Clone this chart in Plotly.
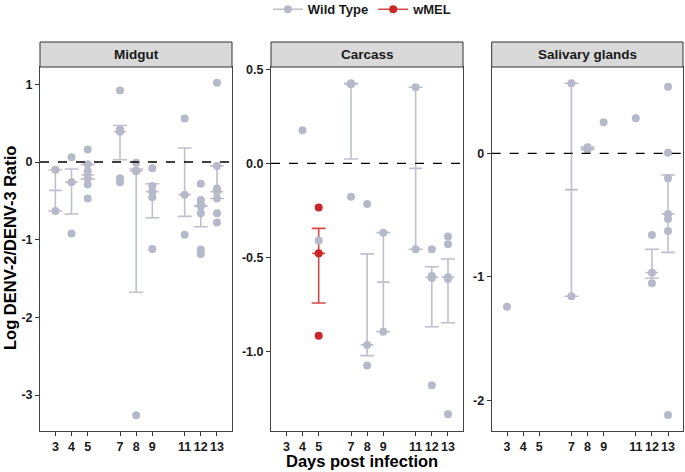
import numpy as np
import plotly.graph_objects as go

# ---------------- data ----------------
day_ticks = [3, 4, 5, 7, 8, 9, 11, 12, 13]
tissues = ["Midgut", "Carcass", "Salivary glands"]

# Midgut - Wild Type
mid_wt_days = [3, 3, 4, 4, 4, 5, 5, 5, 5, 5, 5, 7, 7, 7, 7, 7, 8, 8, 8, 8,
               9, 9, 9, 9, 9, 11, 11, 11, 12, 12, 12, 12, 12, 12, 12,
               13, 13, 13, 13, 13, 13, 13]
mid_wt_vals = [-0.10, -0.63, 0.06, -0.26, -0.92, 0.16, -0.03, -0.12, -0.21, -0.29, -0.47,
               0.92, 0.42, 0.39, -0.21, -0.26, -0.01, -0.11, -0.12, -3.26,
               -0.08, -0.31, -0.38, -0.455, -1.12, 0.56, -0.42, -0.935,
               -0.28, -0.49, -0.54, -0.57, -0.66, -1.125, -1.185,
               1.02, -0.05, -0.34, -0.38, -0.47, -0.66, -0.78]
mid_sum_days = [3, 4, 5, 7, 8, 9, 11, 12, 13]
mid_sum_lo = [-0.63, -0.67, -0.22, 0.03, -1.677, -0.717, -0.70, -0.833, -0.47]
mid_sum_hi = [-0.10, -0.09, -0.03, 0.47, -0.09, -0.28, 0.18, -0.56, -0.05]
mid_sum_med = [-0.365, -0.26, -0.165, 0.39, -0.115, -0.38, -0.42, -0.57, -0.38]

# Carcass - Wild Type
car_wt_days = [4, 5, 7, 7, 7, 8, 8, 8, 9, 9, 11, 11, 12, 12, 12, 12, 13, 13, 13, 13, 13]
car_wt_vals = [0.175, -0.41, 0.425, 0.42, -0.178, -0.216, -0.966, -1.076, -0.369, -0.896,
               0.404, -0.457, -0.457, -0.60, -0.61, -1.18, -0.39, -0.431, -0.606, -0.615, -1.335]
car_sum_days = [7, 8, 9, 11, 12, 13]
car_sum_lo = [0.023, -1.023, -0.896, -0.457, -0.869, -0.848]
car_sum_hi = [0.425, -0.482, -0.369, 0.404, -0.55, -0.509]
car_sum_med = [0.42, -0.966, -0.632, -0.027, -0.605, -0.606]

# Carcass - wMEL
car_wm_days = [5, 5, 5]
car_wm_vals = [-0.235, -0.479, -0.917]
car_wm_sum_days = [5]
car_wm_sum_lo = [-0.743]
car_wm_sum_hi = [-0.346]
car_wm_sum_med = [-0.479]

# Salivary glands - Wild Type
sal_wt_days = [3, 7, 7, 8, 8, 9, 11, 12, 12, 12, 13, 13, 13, 13, 13, 13, 13]
sal_wt_vals = [-1.242, 0.567, -1.158, 0.05, 0.03, 0.251, 0.283, -0.662, -0.967, -1.053,
               0.539, 0.005, -0.203, -0.491, -0.532, -0.629, -2.119]
sal_sum_days = [7, 8, 12, 13]
sal_sum_lo = [-1.158, 0.03, -1.012, -0.802]
sal_sum_hi = [0.567, 0.05, -0.777, -0.176]
sal_sum_med = [-0.295, 0.04, -0.967, -0.491]

# ---------------- styling ----------------
GREY = "#B6B9C9"
GREY_BAR = "#BDC0CE"
RED = "#C9262A"
RED_BAR = "#D24A48"
FONT = "Liberation Sans, Arial, sans-serif"
W, H = 685, 472

panel_px = [(40, 232), (271, 463), (491.7, 683)]
plot_top, plot_bot = 67, 430.5
strip_top = 42
yranges = [[-3.456, 1.223], [-1.421, 0.512], [-2.245, 0.699]]
ytickvals = [[-3, -2, -1, 0, 1], [-1.0, -0.5, 0.0, 0.5], [-2, -1, 0]]
yticktext = [["-3", "-2", "-1", "0", "1"], ["-1.0", "-0.5", "0.0", "0.5"], ["-2", "-1", "0"]]

fig = go.Figure()


def add_summary(days, lo, hi, med, color, ax):
    lo = np.array(lo)
    hi = np.array(hi)
    fig.add_trace(go.Scatter(
        x=days, y=(lo + hi) / 2, mode="markers",
        marker=dict(color="rgba(0,0,0,0)", size=1),
        error_y=dict(type="data", array=(hi - lo) / 2, symmetric=True,
                     color=color, thickness=1.6, width=7),
        xaxis="x" + ax, yaxis="y" + ax, showlegend=False, hoverinfo="skip"))
    fig.add_trace(go.Scatter(
        x=days, y=med, mode="markers",
        marker=dict(symbol="line-ew", size=9, line=dict(color=color, width=1.8)),
        xaxis="x" + ax, yaxis="y" + ax, showlegend=False, hoverinfo="skip"))


def add_points(days, vals, color, ax):
    fig.add_trace(go.Scatter(
        x=days, y=vals, mode="markers",
        marker=dict(color=color, size=8),
        xaxis="x" + ax, yaxis="y" + ax, showlegend=False))


add_summary(mid_sum_days, mid_sum_lo, mid_sum_hi, mid_sum_med, GREY_BAR, "")
add_summary(car_sum_days, car_sum_lo, car_sum_hi, car_sum_med, GREY_BAR, "2")
add_summary(car_wm_sum_days, car_wm_sum_lo, car_wm_sum_hi, car_wm_sum_med, RED_BAR, "2")
add_summary(sal_sum_days, sal_sum_lo, sal_sum_hi, sal_sum_med, GREY_BAR, "3")
add_points(mid_wt_days, mid_wt_vals, GREY, "")
add_points(car_wt_days, car_wt_vals, GREY, "2")
add_points(sal_wt_days, sal_wt_vals, GREY, "3")
add_points(car_wm_days, car_wm_vals, RED, "2")

# legend entries
for name, col, lcol in [("Wild Type", GREY, GREY_BAR), ("wMEL", RED, RED_BAR)]:
    fig.add_trace(go.Scatter(x=[None], y=[None], mode="lines+markers", name=name,
                             marker=dict(color=col, size=8), line=dict(color=lcol, width=1.6)))

layout = dict(
    width=W, height=H, margin=dict(l=0, r=0, t=0, b=0, autoexpand=False),
    plot_bgcolor="white", paper_bgcolor="white",
    font=dict(family=FONT, color="#1a1a1a"),
    legend=dict(orientation="h", x=0.529, xanchor="center", y=1.012, yanchor="top",
                font=dict(size=13, family=FONT, weight="bold"), itemwidth=30,
                bgcolor="rgba(0,0,0,0)"),
    shapes=[], annotations=[],
)

ydom = [1 - plot_bot / H, 1 - plot_top / H]
for i, (x0, x1) in enumerate(panel_px):
    sfx = "" if i == 0 else str(i + 1)
    layout["xaxis" + sfx] = dict(
        domain=[x0 / W, x1 / W], range=[2.05, 13.93], anchor="y" + sfx,
        tickvals=day_ticks, ticktext=[str(d) for d in day_ticks],
        ticks="outside", ticklen=4, tickcolor="#333", tickwidth=1,
        showline=True, linecolor="#444", linewidth=1, mirror=True,
        showgrid=False, zeroline=False,
        tickfont=dict(size=12.5, family=FONT, weight="bold", color="#1a1a1a"))
    layout["yaxis" + sfx] = dict(
        domain=ydom, range=yranges[i], anchor="x" + sfx,
        tickvals=ytickvals[i], ticktext=yticktext[i],
        ticks="outside", ticklen=4, tickcolor="#333", tickwidth=1,
        showline=True, linecolor="#444", linewidth=1, mirror=True,
        showgrid=False, zeroline=False,
        tickfont=dict(size=12.5, family=FONT, weight="bold", color="#1a1a1a"))
    # zero reference line
    layout["shapes"].append(dict(type="line", xref="x" + sfx + " domain", yref="y" + sfx,
                                 x0=0, x1=1, y0=0, y1=0,
                                 line=dict(color="black", width=1.3, dash="dash")))
    # strip
    layout["shapes"].append(dict(type="rect", xref="paper", yref="paper",
                                 x0=x0 / W, x1=x1 / W, y0=1 - plot_top / H, y1=1 - strip_top / H,
                                 fillcolor="#D9D9D9", line=dict(color="#333", width=1)))
    layout["annotations"].append(dict(text="<b>%s</b>" % tissues[i], xref="paper", yref="paper",
                                      x=(x0 + x1) / 2 / W, y=1 - (plot_top + strip_top) / 2 / H,
                                      showarrow=False, font=dict(size=13.5, family=FONT, color="#1a1a1a"),
                                      xanchor="center", yanchor="middle"))

layout["annotations"].append(dict(text="<b>Log DENV-2/DENV-3 Ratio</b>", xref="paper", yref="paper",
                                  x=10 / W, y=1 - 248 / H, textangle=-90, showarrow=False,
                                  font=dict(size=16.5, family=FONT, color="black"),
                                  xanchor="center", yanchor="middle"))
layout["annotations"].append(dict(text="<b>Days post infection</b>", xref="paper", yref="paper",
                                  x=362 / W, y=1 - 461 / H, showarrow=False,
                                  font=dict(size=16.5, family=FONT, color="black"),
                                  xanchor="center", yanchor="middle"))

fig.update_layout(**layout)
fig.write_html("out.html", config={"displayModeBar": False},
               post_script="document.body.style.margin='0';document.body.style.overflow='hidden';")
